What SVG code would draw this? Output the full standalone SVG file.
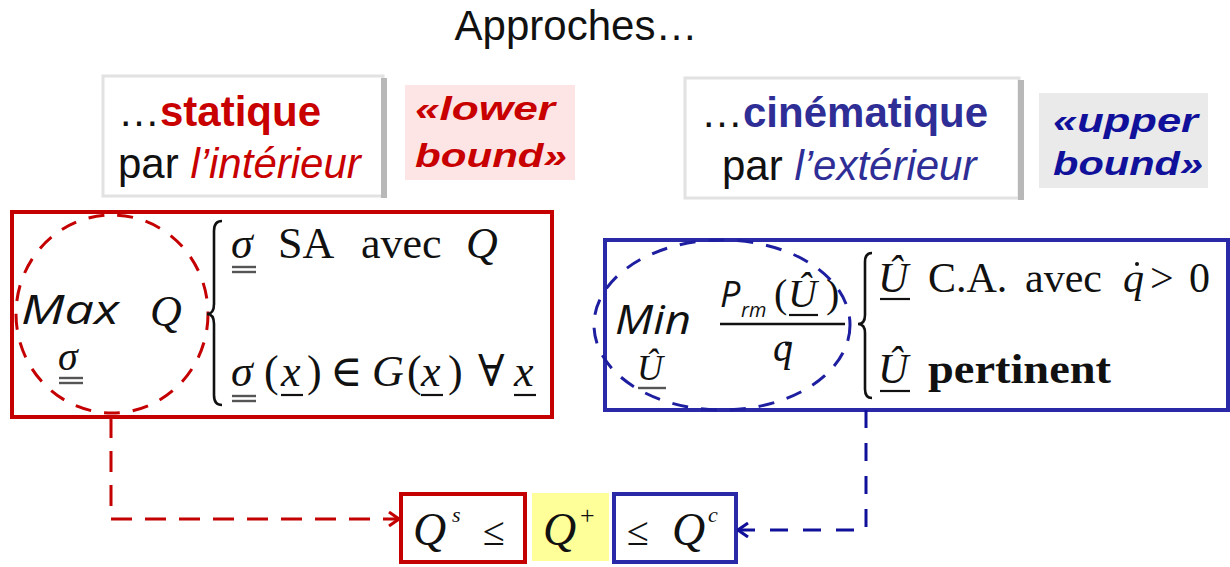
<svg xmlns="http://www.w3.org/2000/svg" width="1230" height="567" viewBox="0 0 1230 567">
  <style>
    .sans { font-family: "Liberation Sans", Arial, sans-serif; }
    .hand { font-family: "Open Sans", "Liberation Sans", sans-serif; font-style: italic; }
    .math { font-family: "Liberation Serif", "DejaVu Serif", serif; }
    .it { font-style: italic; }
    .red { fill: #c80000; }
    .blue { fill: #2e2e96; }
    .navy { fill: #10109a; }
    .ink { fill: #111; }
    .card { fill: #fff; stroke: #e2e2e2; stroke-width: 3; }
    .cardEdge { fill: #b8b8b8; }
    .rbox { fill: none; stroke: #c40000; stroke-width: 4; }
    .bbox { fill: none; stroke: #2a2aa8; stroke-width: 4; }
    .rring { fill: none; stroke: #c40000; stroke-width: 3; stroke-dasharray: 16 13; }
    .bring { fill: none; stroke: #1e1ea0; stroke-width: 3; stroke-dasharray: 16 13; }
    .brace { fill: none; stroke: #111; stroke-width: 2.6; }
    .ul { stroke: #111; stroke-width: 2.2; }
    .ulg { stroke: #555; stroke-width: 2.4; }
  </style>
  <defs>
    <marker id="headRed" viewBox="0 0 12 16" refX="11" refY="8" markerWidth="12" markerHeight="16" markerUnits="userSpaceOnUse" orient="auto">
      <path d="M1,1 L11,8 L1,15" fill="none" stroke="#c40000" stroke-width="3"/>
    </marker>
    <marker id="headBlue" viewBox="0 0 12 16" refX="11" refY="8" markerWidth="12" markerHeight="16" markerUnits="userSpaceOnUse" orient="auto">
      <path d="M1,1 L11,8 L1,15" fill="none" stroke="#10109a" stroke-width="3"/>
    </marker>
  </defs>

  <rect width="1230" height="567" fill="#fff"/>

  <!-- title -->
  <g id="title">
    <text class="sans ink" x="576" y="40" font-size="42" text-anchor="middle">Approches…</text>
  </g>

  <!-- static approach header -->
  <g id="static-header">
    <rect class="card" x="103" y="76" width="280" height="120"/>
    <rect class="cardEdge" x="381" y="78" width="6" height="120"/>
    <text class="sans" x="118" y="126" font-size="42"><tspan class="ink">…</tspan><tspan class="red" font-weight="bold">statique</tspan></text>
    <text class="sans" x="118" y="178" font-size="42"><tspan class="ink">par </tspan><tspan class="red it">l’intérieur</tspan></text>
  </g>

  <g id="lower-bound">
    <rect x="405" y="85" width="170" height="95" fill="#fde5e5"/>
    <text class="sans red" x="415" y="120" font-size="34" font-weight="bold" font-style="italic" textLength="140" lengthAdjust="spacingAndGlyphs">«lower</text>
    <text class="sans red" x="415" y="167" font-size="34" font-weight="bold" font-style="italic" textLength="152" lengthAdjust="spacingAndGlyphs">bound»</text>
  </g>

  <!-- kinematic approach header -->
  <g id="kinematic-header">
    <rect class="card" x="685" y="78" width="334" height="120"/>
    <rect class="cardEdge" x="1018" y="80" width="6" height="120"/>
    <text class="sans" x="701" y="127" font-size="42"><tspan class="ink">…</tspan><tspan class="blue" font-weight="bold">cinématique</tspan></text>
    <text class="sans" x="722" y="180" font-size="42"><tspan class="ink">par </tspan><tspan class="blue it">l’extérieur</tspan></text>
  </g>

  <g id="upper-bound">
    <rect x="1039" y="93" width="169" height="95" fill="#eaeaea"/>
    <text class="sans navy" x="1053" y="132" font-size="34" font-weight="bold" font-style="italic" textLength="145" lengthAdjust="spacingAndGlyphs">«upper</text>
    <text class="sans navy" x="1053" y="175" font-size="34" font-weight="bold" font-style="italic" textLength="150" lengthAdjust="spacingAndGlyphs">bound»</text>
  </g>

  <!-- static problem: maximise Q over admissible stress fields -->
  <g id="static-problem">
    <rect class="rbox" x="12" y="212" width="540" height="205"/>
    <ellipse class="rring" cx="112" cy="314" rx="96" ry="99"/>
    <text class="hand ink" x="21" y="324" font-size="40" textLength="98" lengthAdjust="spacingAndGlyphs">Max</text>
    <text class="math it ink" x="150" y="326" font-size="44">Q</text>
    <text class="math it ink" x="58" y="370" font-size="40">σ</text>
    <line class="ulg" x1="59" y1="378" x2="83" y2="378"/>
    <line class="ulg" x1="59" y1="383" x2="83" y2="383"/>
    <path class="brace" d="M222,221 Q214,221 214,231 L214,304 Q214,314 207,314 Q214,314 214,324 L214,395 Q214,405 222,405"/>
    <!-- first condition -->
    <text class="math ink" y="258" font-size="44"><tspan class="it" x="231">σ</tspan><tspan x="278">SA</tspan><tspan x="361">avec</tspan><tspan class="it" x="466">Q</tspan></text>
    <line class="ulg" x1="232" y1="267" x2="256" y2="267"/>
    <line class="ulg" x1="232" y1="272" x2="256" y2="272"/>
    <!-- second condition -->
    <text class="math ink" y="386" font-size="44"><tspan class="it" x="231">σ</tspan><tspan x="264">(</tspan><tspan class="it" x="281">x</tspan><tspan x="307">)</tspan><tspan x="330">∈</tspan><tspan class="it" x="372">G</tspan><tspan x="407">(</tspan><tspan class="it" x="421">x</tspan><tspan x="448">)</tspan><tspan x="478">∀</tspan><tspan class="it" x="514">x</tspan></text>
    <line class="ulg" x1="232" y1="396" x2="256" y2="396"/>
    <line class="ulg" x1="232" y1="401" x2="256" y2="401"/>
    <line class="ul" x1="281" y1="395" x2="303" y2="395"/>
    <line class="ul" x1="421" y1="395" x2="443" y2="395"/>
    <line class="ul" x1="514" y1="395" x2="536" y2="395"/>
  </g>

  <!-- kinematic problem: minimise the resisting power ratio -->
  <g id="kinematic-problem">
    <rect class="bbox" x="605" y="240" width="623" height="170"/>
    <ellipse class="bring" cx="722" cy="325" rx="128" ry="85"/>
    <text class="hand ink" x="615" y="334" font-size="40" textLength="76" lengthAdjust="spacingAndGlyphs">Min</text>
    <text class="math it ink" x="637" y="380" font-size="36">Û</text>
    <line class="ulg" x1="638" y1="388" x2="666" y2="388"/>
    <!-- fraction -->
    <text class="hand ink" x="720" y="307" font-size="36">P</text>
    <text class="hand ink" x="741" y="317" font-size="20">rm</text>
    <text class="math ink" y="307" font-size="40"><tspan x="774">(</tspan><tspan class="it" x="788">Û</tspan><tspan x="826">)</tspan></text>
    <line class="ul" x1="789" y1="315" x2="818" y2="315"/>
    <line x1="720" y1="324" x2="845" y2="324" stroke="#111" stroke-width="2.5"/>
    <text class="math it ink" x="773" y="361" font-size="40">q</text>
    <circle cx="787" cy="344" r="2" fill="#111"/>
    <path class="brace" d="M872,253 Q865,253 865,262 L865,315 Q865,324 858,324 Q865,324 865,333 L865,389 Q865,398 872,398"/>
    <!-- first condition -->
    <text class="math ink" y="292" font-size="42"><tspan class="it" x="878">Û</tspan><tspan x="928">C.A.</tspan><tspan x="1025">avec</tspan><tspan class="it" x="1123">q</tspan><tspan x="1150">&gt;</tspan><tspan x="1189">0</tspan></text>
    <line class="ul" x1="880" y1="299" x2="910" y2="299"/>
    <circle cx="1137" cy="264" r="2" fill="#111"/>
    <!-- second condition -->
    <text class="math it ink" x="878" y="383" font-size="42">Û</text>
    <line class="ul" x1="880" y1="391" x2="910" y2="391"/>
    <text class="math ink" x="928" y="383" font-size="42" font-weight="bold" textLength="183" lengthAdjust="spacingAndGlyphs">pertinent</text>
  </g>

  <!-- bracketing of the limit load -->
  <g id="static-bound">
    <rect class="rbox" x="401" y="494" width="124" height="68"/>
    <text class="math it ink" x="413" y="545" font-size="46">Q</text>
    <text class="math it ink" x="452" y="522" font-size="22">s</text>
    <text class="math ink" x="483" y="545" font-size="40">≤</text>
  </g>

  <g id="exact-load">
    <rect x="532" y="493" width="77" height="68" fill="#ffff99"/>
    <text class="math it ink" x="543" y="545" font-size="46">Q</text>
    <text class="math ink" x="580" y="524" font-size="26">+</text>
  </g>

  <g id="kinematic-bound">
    <rect class="bbox" x="614" y="494" width="122" height="68"/>
    <text class="math ink" x="627" y="545" font-size="40">≤</text>
    <text class="math it ink" x="672" y="545" font-size="46">Q</text>
    <text class="math it ink" x="708" y="522" font-size="22">c</text>
  </g>

  <!-- connectors -->
  <g id="connectors" fill="none" stroke-width="3">
    <path d="M111,417 V519 H399" stroke="#c40000" stroke-dasharray="21 13" marker-end="url(#headRed)"/>
    <path d="M866,410 V530 H738" stroke="#10109a" stroke-dasharray="18 15" marker-end="url(#headBlue)"/>
  </g>
</svg>
